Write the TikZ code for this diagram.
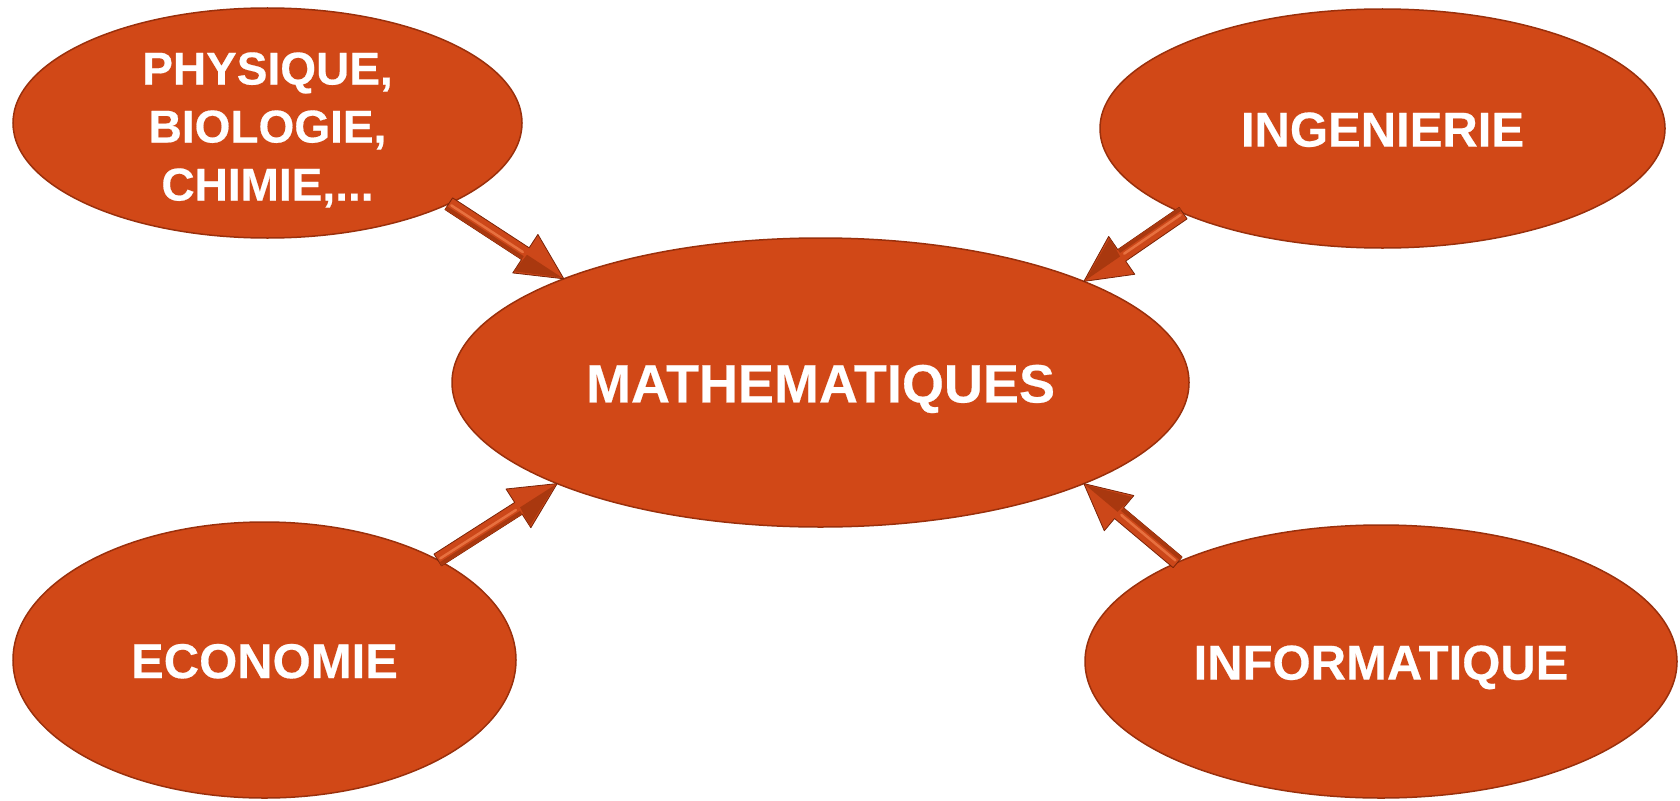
\documentclass[tikz,border=0pt]{standalone}
\usepackage{fontspec}
\setmainfont{Liberation Sans}
\newfontfamily\lbl{Liberation Sans Bold}[FakeBold=0.4]
\usetikzlibrary{shapes.geometric,calc}
\definecolor{orfill}{HTML}{D14817}
\definecolor{oredge}{HTML}{9A300C}
\definecolor{arfill}{HTML}{CC4719}
\definecolor{ardark}{HTML}{7A2408}
\definecolor{armid}{HTML}{A9380F}
\definecolor{arlight}{HTML}{E7703F}
\tikzset{
  bubble/.style={ellipse, fill=orfill, draw=oredge, line width=1.5pt, inner sep=0pt, outer sep=0pt,
    text=white, font=\lbl\fontsize{49}{58}\selectfont},
}
\newcommand\oneline[1]{\raisebox{-0.37em}[0pt][0pt]{#1}}
\newcommand\fatarrow[2]{%
  \coordinate (fa1) at (#1); \coordinate (fa2) at (#2);
  \coordinate (fab) at ($(fa2)!46pt!(fa1)$);
  \fill[arfill, draw=ardark, line width=0.8pt, line join=round]
    ($(fa1)!7pt!90:(fa2)$) -- ($(fab)!7pt!-90:(fa1)$) -- ($(fab)!23pt!-90:(fa1)$) -- (fa2)
    -- ($(fab)!23pt!90:(fa1)$) -- ($(fab)!7pt!90:(fa1)$) -- ($(fa1)!7pt!-90:(fa2)$) -- cycle;
  \fill[armid] ($(fab)!2pt!(fa2)$) -- ($(fab)!21pt!90:(fa1)$) -- ($(fa2)!2pt!(fab)$) -- cycle;
  \fill[armid] ($(fa1)!7pt!-90:(fa2)$) -- ($(fab)!7pt!90:(fa1)$) -- ($(fab)!3pt!90:(fa1)$) -- ($(fa1)!3pt!-90:(fa2)$) -- cycle;
  \draw[arlight, line width=2.5pt, line cap=round] ($(fa1)!3pt!(fab)$) -- ($(fab)!3pt!(fa1)$);
}
\begin{document}
\begin{tikzpicture}[x=1pt,y=-1pt]
\useasboundingbox (0,0) rectangle (1680,800);
\node[bubble, minimum width=509pt, minimum height=230pt, font=\lbl\fontsize{46}{58}\selectfont] (tl) at (267.5,123)
  {\raisebox{38.5pt}[0pt][0pt]{\begin{tabular}[t]{@{}c@{}}PHYSIQUE,\\BIOLOGIE,\\CHIMIE,...\end{tabular}}};
\node[bubble, minimum width=565pt, minimum height=239pt] (tr) at (1382.5,128.5) {\oneline{INGENIERIE}};
\node[bubble, minimum width=737pt, minimum height=289pt, font=\lbl\fontsize{54}{62}\selectfont] (c) at (820.5,382.5) {\oneline{MATHEMATIQUES}};
\node[bubble, minimum width=503pt, minimum height=276pt] (bl) at (264.5,660) {\oneline{ECONOMIE}};
\node[bubble, minimum width=592pt, minimum height=273pt] (br) at (1381,661.5) {\oneline{INFORMATIQUE}};
\fatarrow{tl.-24.4}{c.158.67}
\fatarrow{tr.-157.05}{c.21.4}
\fatarrow{bl.30}{c.201.33}
\fatarrow{br.154.7}{c.-21.4}
\end{tikzpicture}
\end{document}
